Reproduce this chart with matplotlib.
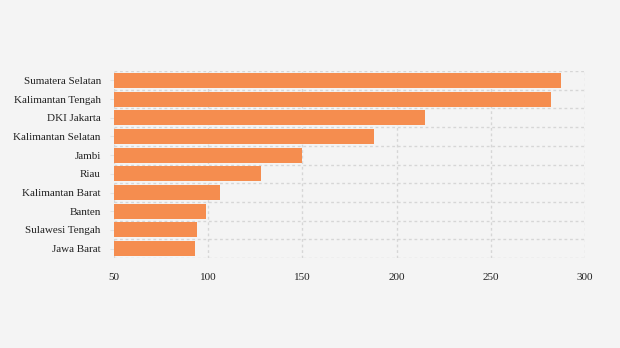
import matplotlib
matplotlib.use("Agg")
import matplotlib.pyplot as plt
import numpy as np

# provinces, top to bottom as in the chart
provinces = ["Sumatera Selatan", "Kalimantan Tengah", "DKI Jakarta",
             "Kalimantan Selatan", "Jambi", "Riau", "Kalimantan Barat",
             "Banten", "Sulawesi Tengah", "Jawa Barat"]
values = [287.3, 281.8, 215.1, 187.8, 149.8, 128.0, 106.3, 98.8, 94.1, 93.0]
xticks = [50, 100, 150, 200, 250, 300]

bg = "#f4f4f4"
bar_color = "#f58d4f"
grid_color = "#d6d6d6"

plt.rcParams["font.family"] = ["Liberation Serif", "DejaVu Serif"]

fig = plt.figure(figsize=(6.2, 3.48), dpi=100, facecolor=bg)
ax = fig.add_axes([114 / 620, 1 - 258 / 348, 471 / 620, 187 / 348])
ax.set_facecolor(bg)

pos = np.arange(len(provinces))
ax.barh(pos, values, height=0.8, left=0, color=bar_color, zorder=3)

ax.set_xlim(50, 300)
ax.set_ylim(len(provinces) - 0.5, -0.5)
ax.set_xticks(xticks)
ax.set_xticklabels([str(t) for t in xticks], fontsize=8, color="#222222")
ax.set_yticks(pos)
ax.set_yticklabels(provinces, fontsize=8, color="#222222")
ax.set_yticks(np.arange(len(provinces) + 1) - 0.5, minor=True)

ax.grid(axis="x", which="major", linestyle=(0, (2, 2)), color=grid_color, linewidth=1, zorder=1)
ax.grid(axis="y", which="minor", linestyle=(0, (2, 2)), color=grid_color, linewidth=1, zorder=1)
ax.tick_params(axis="x", length=0, pad=11)
ax.tick_params(axis="y", which="major", length=3, color="#e2e2e2", pad=6.5)
ax.tick_params(axis="y", which="minor", length=0)

for side in ["top", "right", "left", "bottom"]:
    ax.spines[side].set_visible(False)

fig.savefig("out.png", dpi=100, facecolor=bg)
